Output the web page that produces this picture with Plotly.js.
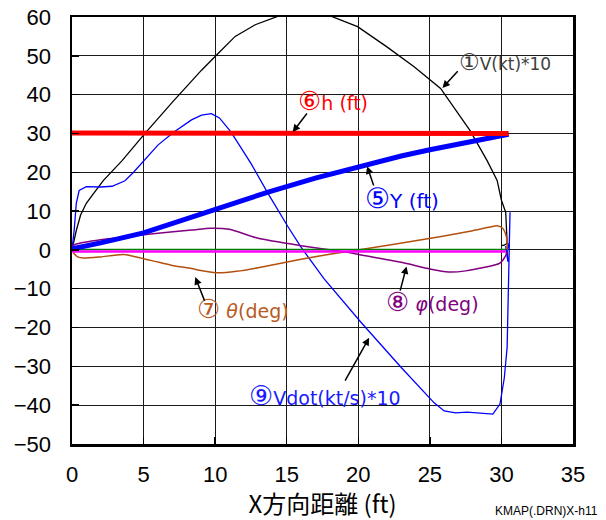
<!DOCTYPE html>
<html><head><meta charset="utf-8">
<script src="https://cdn.plot.ly/plotly-3.0.1.min.js"></script>
<style>html,body{margin:0;padding:0;background:#fff}#chart{width:606px;height:520px}</style>
</head><body><div id="chart"></div>
<script>
// ① V(kt)*10
const vX = [0,0.1,0.3,0.6,1.0,1.5,2.2,3.5,5.1,7.0,9.05,10.1,11.4,12.8,14.4,16.0,18.1,19.95,22.0,23.9,25.75,27.8,29.0,29.7,30.0,30.3,30.4,30.4,30.2,30.0];
const vY = [0,2,5,9,12,14.5,17.9,23,30,38,46.3,50.2,55,58,60.2,61.3,60.2,57.5,52.3,47.2,41.6,30.8,23,17.9,12.8,9.7,4.2,1.7,1.2,1.1];
// ⑥ h(ft)
const hX = [0,5,10,15,20,25,30.5];
const hY = [30.1,30.1,30,30,30,30,30];
// ⑤ Y(ft)
const yX = [0,2,5,7,9,11,13.7,17,20.2,23,25,27.1,29,30.5];
const yY = [0.3,1.8,4.4,6.8,9.3,11.7,14.9,18.5,21.7,24.2,25.8,27.3,28.7,29.8];
// ⑦ θ(deg)
const thX = [0,0.15,0.4,0.8,2,3.6,5.5,7,8.35,9,10.2,11.5,13,16,18,20.2,24.1,27.8,29.2,29.7,30.1,30.3,30.4,30.4];
const thY = [0,-1,-1.8,-2.1,-1.8,-1.2,-2.7,-4,-4.8,-5.3,-5.9,-5.5,-4.6,-2.4,-1.1,0.1,2.4,4.8,5.9,6.2,5.5,4,2,0];
// ⑧ φ(deg)
const phX = [0,0.3,2,5.5,8.35,9.7,11,13,16,19,20.2,23,25,26.3,27.5,29.9,30.3,30.4];
const phY = [1,1.5,2.6,4.1,5.1,5.6,5.3,3.0,1.1,-0.5,-1.3,-3.2,-4.9,-5.7,-5.4,-3.4,-1.5,-0.5];
// green and magenta reference lines
const gX = [0,30.3], gY = [0.1,0.1];
const mX = [0,30.3], mY = [-0.4,-0.4];
// ⑨ Vdot(kt/s)*10
const vdX = [0,0.15,0.3,0.5,1,2,2.8,3.7,4.3,5,6,7.1,8.35,9.05,9.74,10.3,11.1,12.5,13.7,15.1,16,17.6,20.2,23,25.3,26,26.8,27.6,28.5,29.4,29.9,30.2,30.4,30.5,30.55,30.6,30.55,30.35,30.3,30.45,30.4];
const vdY = [0,5,12,15.3,16.3,16.2,16.4,17.8,20,23,27,30.3,33.5,34.7,35.1,34,30.4,22.3,14.5,5.9,0.7,-7.4,-18.7,-30.3,-39.4,-41.5,-42,-41.8,-42.1,-42.3,-39.7,-33,-25,-10,0,9.7,2,-1,1,-3,0];

const xTicks = [0,5,10,15,20,25,30,35];
const yTicks = [-50,-40,-30,-20,-10,0,10,20,30,40,50,60];

const traces = [
  {x:vX,y:vY,mode:'lines',line:{color:'#000000',width:1.3}},
  {x:vdX,y:vdY,mode:'lines',line:{color:'#0000ff',width:1.3}},
  {x:thX,y:thY,mode:'lines',line:{color:'#b4500f',width:1.5,shape:'spline',smoothing:0.6}},
  {x:phX,y:phY,mode:'lines',line:{color:'#800080',width:1.5,shape:'spline',smoothing:0.6}},
  {x:gX,y:gY,mode:'lines',line:{color:'#008000',width:1.5}},
  {x:mX,y:mY,mode:'lines',line:{color:'#ff00ff',width:2.5}},
  {x:yX,y:yY,mode:'lines',line:{color:'#0000ff',width:5}},
  {x:hX,y:hY,mode:'lines',line:{color:'#ff0000',width:5}}
];

function circ(c,sz){ return '<span style="font-size:'+sz+'px">'+c+'</span>'; }
const labels = [
  {t:circ('①',23)+'V(kt)*10', x:30.22, y:48.4, c:'#404040', s:17},
  {t:circ('⑥',26)+'h (ft)', x:18.21, y:38.35, c:'#ff0000', s:19},
  {t:circ('⑤',28)+'Y (ft)', x:23.04, y:13.2, c:'#0000ff', s:20},
  {t:circ('⑦',26)+' <i>θ</i>(deg)', x:11.93, y:-15.15, c:'#b85a1e', s:19},
  {t:circ('⑧',26)+' <i>φ</i>(deg)', x:25.18, y:-13.45, c:'#800080', s:19},
  {t:circ('⑨',27)+'Vdot(kt/s)*10', x:17.67, y:-37.5, c:'#1a1aff', s:19}
];
const arrows = [
  [27.04,46.44,25.88,41.70],
  [16.49,35.52,15.42,30.36],
  [21.11,16.19,20.62,21.52],
  [9.30,-13.45,8.61,-7.01],
  [22.90,-10.88,23.37,-4.25],
  [19.02,-34.07,20.76,-22.63]
];
const annotations = [];
labels.forEach(l=>annotations.push({x:l.x,y:l.y,xref:'x',yref:'y',text:l.t,showarrow:false,
  font:{family:'DejaVu Sans, Noto Sans CJK JP',size:l.s,color:l.c},xanchor:'center',yanchor:'middle'}));
arrows.forEach(a=>annotations.push({x:a[2],y:a[3],ax:a[0],ay:a[1],xref:'x',yref:'y',axref:'x',ayref:'y',
  text:'',showarrow:true,arrowhead:2,arrowsize:1,arrowwidth:1.5,arrowcolor:'#000000',standoff:0,startstandoff:0}));
annotations.push({xref:'paper',yref:'paper',x:1.054,y:-0.156,xanchor:'right',yanchor:'middle',
  text:'KMAP(.DRN)X-h11',showarrow:false,font:{family:'Liberation Sans, Arial',size:12,color:'#000'}});

const layout = {
  width:606,height:520,
  margin:{l:72,r:33,t:17,b:76},
  paper_bgcolor:'#ffffff',plot_bgcolor:'#ffffff',
  showlegend:false,
  xaxis:{range:[0,35],tickvals:xTicks,ticktext:xTicks.map(String),
    showgrid:true,gridcolor:'#1a1a1a',gridwidth:1,zeroline:false,
    showline:true,linecolor:'#000',linewidth:2.5,mirror:true,
    ticks:'inside',ticklen:7,tickwidth:1.5,tickcolor:'#000',ticklabelstandoff:9,
    tickfont:{family:'Liberation Sans, Arial',size:22,color:'#000'},
    title:{text:'X方向距離 (ft)',font:{family:"Noto Sans CJK JP",size:24,color:'#000'},standoff:0}},
  yaxis:{range:[-50,60],tickvals:yTicks,ticktext:yTicks.map(v=>v<0?'−'+Math.abs(v):String(v)),
    showgrid:true,gridcolor:'#1a1a1a',gridwidth:1,zeroline:false,
    showline:true,linecolor:'#000',linewidth:2.5,mirror:true,
    ticks:'inside',ticklen:7,tickwidth:1.5,tickcolor:'#000',ticklabelstandoff:14,
    tickfont:{family:'Liberation Sans, Arial',size:22,color:'#000'}},
  annotations:annotations
};
Plotly.newPlot('chart',traces,layout,{staticPlot:true});
</script></body></html>
